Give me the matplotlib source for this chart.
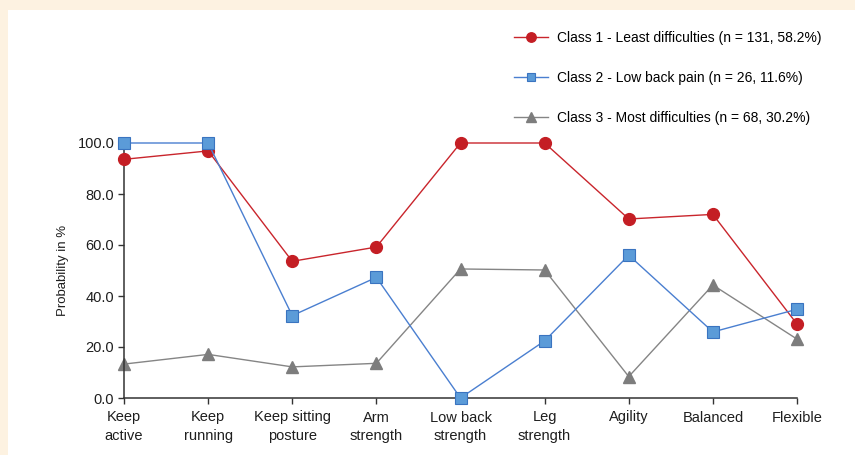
import matplotlib
matplotlib.use("Agg")
import matplotlib.pyplot as plt
from matplotlib.patches import Rectangle

categories = ["Keep\nactive", "Keep\nrunning", "Keep sitting\nposture", "Arm\nstrength",
              "Low back\nstrength", "Leg\nstrength", "Agility", "Balanced", "Flexible"]
class1 = [93.6, 96.9, 53.6, 59.2, 100.0, 100.0, 70.2, 72.0, 29.0]
class2 = [100.0, 100.0, 32.3, 47.3, 0.0, 22.4, 56.0, 25.9, 34.8]
class3 = [13.3, 17.1, 12.2, 13.6, 50.6, 50.2, 8.4, 44.3, 23.1]
labels = ["Class 1 - Least difficulties (n = 131, 58.2%)",
          "Class 2 - Low back pain (n = 26, 11.6%)",
          "Class 3 - Most difficulties (n = 68, 30.2%)"]
yticks = [0, 20, 40, 60, 80, 100]

plt.rcParams['font.family'] = ['Liberation Sans', 'DejaVu Sans']

W, H = 855, 455
fig = plt.figure(figsize=(W / 100, H / 100), dpi=100, facecolor="#fdf2e1")
# white panel inside the cream frame
fig.patches.append(Rectangle((8 / W, 0), 1, (H - 10) / H, transform=fig.transFigure,
                             facecolor="white", edgecolor="none", zorder=-5))

ax = fig.add_axes([124 / W, 57 / H, (797 - 124) / W, 255 / H])
ax.set_zorder(2)
ax.set_facecolor("none")
x = range(len(categories))

ax.plot(x, class1, color="#c9252c", lw=1.0, marker="o", ms=8.5,
        mfc="#c41e24", mec="#c41e24", label=labels[0], zorder=3, clip_on=False)
ax.plot(x, class2, color="#4a7fd0", lw=1.0, marker="s", ms=8,
        mfc="#5b9bd8", mec="#3a74c0", mew=0.8, label=labels[1], zorder=4, clip_on=False)
ax.plot(x, class3, color="#858585", lw=1.0, marker="^", ms=9,
        mfc="#7d7d7d", mec="#7d7d7d", label=labels[2], zorder=2, clip_on=False)

ax.set_xlim(0, len(categories) - 1)
ax.set_ylim(0, 100)
ax.set_xticks(list(x))
ax.set_xticklabels(categories, fontsize=10.5, linespacing=1.4, color="#1e1e1e")
ax.set_yticks(yticks)
ax.set_yticklabels([f"{v:.1f}" for v in yticks], fontsize=10.5, color="#1e1e1e")
ax.set_ylabel("Probability in %", fontsize=9.5, color="#1e1e1e", labelpad=6)
ax.tick_params(axis="both", direction="out", length=4, width=1, color="#333333", pad=3)
ax.tick_params(axis="x", pad=5)

for s in ["top", "right"]:
    ax.spines[s].set_visible(False)
for s in ["left", "bottom"]:
    ax.spines[s].set_linewidth(1.1)
    ax.spines[s].set_color("#333333")
ax.spines["bottom"].set_bounds(0, len(categories) - 1)

ax.legend(loc="upper left", bbox_to_anchor=(508 / W, (H - 25) / H),
          bbox_transform=fig.transFigure, frameon=False, fontsize=10,
          handlelength=2.5, handletextpad=0.6, labelspacing=1.9, borderaxespad=0,
          markerscale=0.8)

plt.savefig("out.png", dpi=100, facecolor=fig.get_facecolor())
